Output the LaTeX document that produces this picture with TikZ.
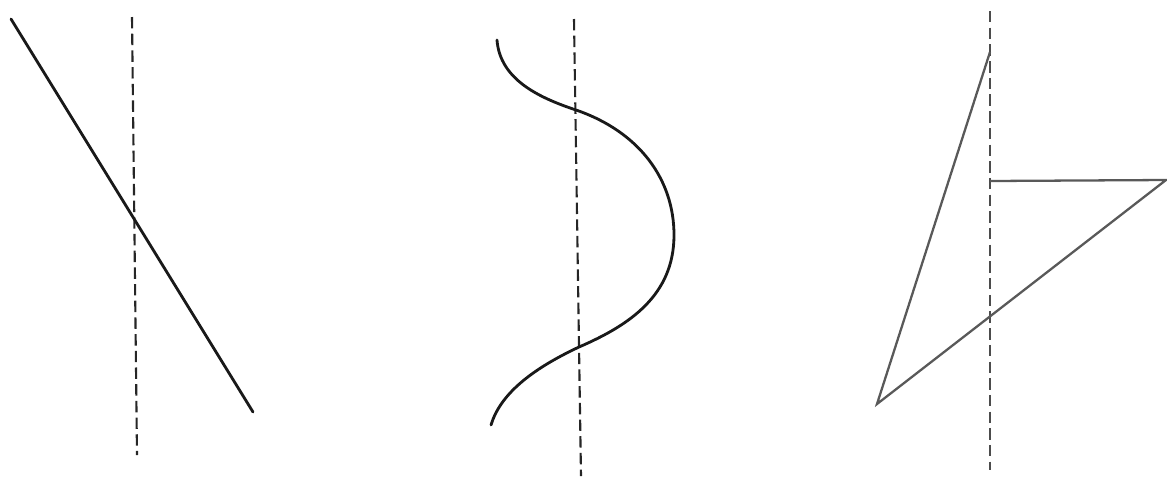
\documentclass[tikz,border=0pt]{standalone}
\begin{document}
\begin{tikzpicture}[x=0.02cm,y=-0.02cm,
  axis/.style={draw=black!85, line width=1.2pt, dash pattern=on 6.5pt off 3pt},
  ink/.style={draw=black!90, line width=1.6pt, line cap=round},
  grayink/.style={draw=black!65, line width=1.3pt, line join=miter}]
\useasboundingbox (0,0) rectangle (1167,478);
% figure 1
\coordinate (a1) at (132,17); \coordinate (a2) at (137,455);
\draw[axis] (a1) -- (a2);
\coordinate (l1) at (11,19); \coordinate (l2) at (253,412);
\draw[ink] (l1) -- (l2);
% figure 2
\coordinate (b1) at (574,19); \coordinate (b2) at (581,476);
\draw[axis] (b1) -- (b2);
\coordinate (s0) at (497,40); \coordinate (s1) at (576,110);
\coordinate (s2) at (674,235); \coordinate (s3) at (579,347);
\coordinate (s4) at (491,425);
\draw[ink] (s0) .. controls (500,80) and (540,98) .. (s1)
  .. controls (640,132) and (674,180) .. (s2)
  .. controls (674,295) and (630,325) .. (s3)
  .. controls (530,370) and (500,395) .. (s4);
% figure 3
\coordinate (c1) at (990,11); \coordinate (c2) at (990,470);
\draw[axis, draw=black!70] (c1) -- (c2);
\coordinate (p0) at (990,181); \coordinate (p1) at (1166,180);
\coordinate (p2) at (877,404); \coordinate (p3) at (990,52);
\draw[grayink] (p0) -- (p1) -- (p2) -- (p3);
\end{tikzpicture}
\end{document}
